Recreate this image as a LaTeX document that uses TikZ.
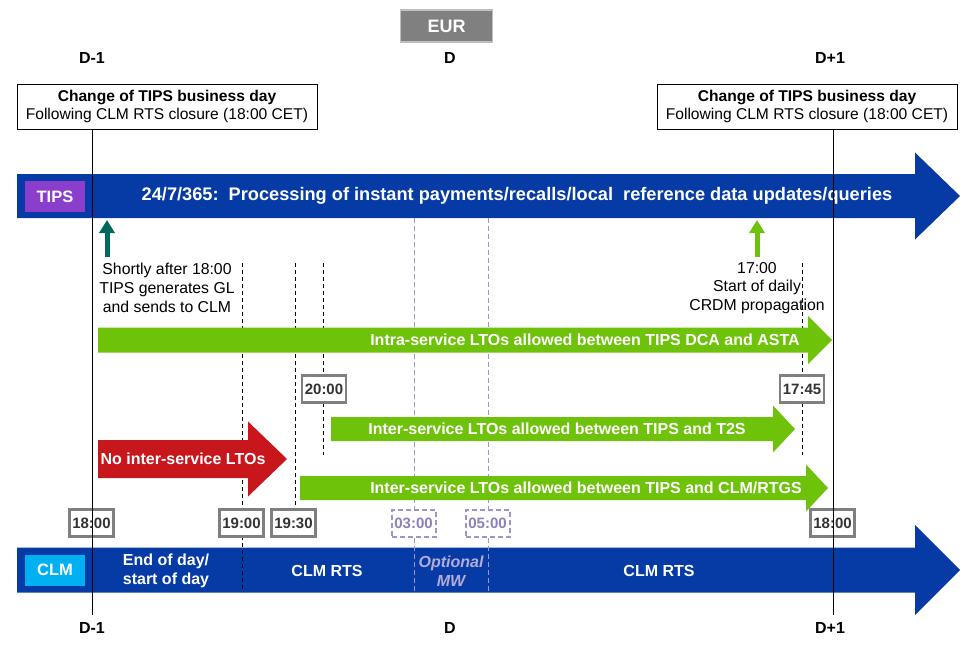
\documentclass[tikz,border=0pt]{standalone}
\usepackage{fontspec}
\setmainfont{Liberation Sans}
\usetikzlibrary{arrows.meta}
\definecolor{ecbblue}{HTML}{063BA5}
\definecolor{tipspurple}{HTML}{8B3DCB}
\definecolor{clmcyan}{HTML}{00B0F0}
\definecolor{ltogreen}{HTML}{6FC20A}
\definecolor{ltored}{HTML}{C8161D}
\definecolor{gltea}{HTML}{00695C}
\definecolor{boxgray}{HTML}{7F7F7F}
\definecolor{eurgray}{HTML}{808080}
\definecolor{mwpurple}{HTML}{A393CC}
\definecolor{mwtext}{HTML}{8E80B8}
\definecolor{mwlight}{HTML}{B3ACD8}
\newcommand\blockarrow[7]{% colour, start, head start, tip, middle, half body, half head
  \fill[#1] (#2,#5-#6) -- (#3,#5-#6) -- (#3,#5-#7) -- (#4,#5) -- (#3,#5+#7) -- (#3,#5+#6) -- (#2,#5+#6) -- cycle;}
\tikzset{
  timebox/.style={draw=boxgray, line width=2.5pt, fill=white, text=black!80,
    font=\bfseries\fontsize{15}{17}\selectfont, minimum width=44pt, minimum height=27pt, inner sep=1pt},
  mwbox/.style={timebox, draw=mwpurple, line width=2pt, dash pattern=on 5pt off 3pt, text=mwtext},
  bartext/.style={text=white, font=\bfseries\fontsize{16}{18}\selectfont},
  labelbox/.style={text=white, font=\bfseries\fontsize{16.5}{18}\selectfont, minimum width=60pt, minimum height=31pt},
  note/.style={align=center, font=\fontsize{15.8}{18.8}\selectfont},
  daymark/.style={font=\bfseries\fontsize{16}{18}\selectfont},
  changebox/.style={draw, line width=0.9pt, fill=white, align=center, minimum width=300pt, minimum height=45pt,
    inner sep=1pt, font=\fontsize{15.6}{17.5}\selectfont},
  tick/.style={dash pattern=on 4pt off 3pt, line width=0.9pt},
  mwline/.style={mwpurple, dash pattern=on 5pt off 3pt, line width=0.9pt},
}
\begin{document}
\begin{tikzpicture}[x=1pt, y=-1pt]
\useasboundingbox (0,0) rectangle (965,658);
% currency and day marks
\node[fill=eurgray, draw=black!25, line width=1.5pt, text=white, font=\bfseries\fontsize{18}{20}\selectfont,
  minimum width=92pt, minimum height=32pt] (eur) at (446.5,26) {EUR};
\node[daymark] (dm1top) at (92,58) {D-1};
\node[daymark] (dtop) at (450,58) {D};
\node[daymark] (dp1top) at (830,58) {D+1};
\node[changebox] (chgleft) at (167,106.5) {\textbf{Change of TIPS business day}\\Following CLM RTS closure (18:00 CET)};
\node[changebox] (chgright) at (807,106.5) {\textbf{Change of TIPS business day}\\Following CLM RTS closure (18:00 CET)};
% service bars
\blockarrow{ecbblue}{17}{915}{960}{196}{22}{43.5}
\blockarrow{ecbblue}{17}{915}{960}{570}{22.5}{45}
% time lines
\draw[tick] (242,263) -- (242,592);
\draw[tick] (295,263) -- (295,509);
\draw[tick] (323,263) -- (323,455);
\draw[tick] (802,263) -- (802,455);
\draw[mwline] (414,218) -- (414,592);
\draw[mwline] (488,218) -- (488,592);
% liquidity transfer bars
\blockarrow{ltogreen}{98}{808}{832}{340}{12.5}{24}
\blockarrow{ltogreen}{331}{773}{795}{429}{12}{23.5}
\blockarrow{ltogreen}{300}{806}{828}{488}{12}{23.5}
\blockarrow{ltored}{98}{248}{287}{459}{19}{37.5}
\node[bartext] (intra) at (585,340) {Intra-service LTOs allowed between TIPS DCA and ASTA};
\node[bartext] (intert2s) at (557,429) {Inter-service LTOs allowed between TIPS and T2S};
\node[bartext] (interclm) at (586,488) {Inter-service LTOs allowed between TIPS and CLM/RTGS};
\node[bartext] (nointer) at (183,459) {No inter-service LTOs};
% TIPS bar
\node[labelbox, fill=tipspurple] (tips) at (55,196.5) {TIPS};
\node[bartext, font=\bfseries\fontsize{18.2}{20}\selectfont] (tipstext) at (517,196)
  {24/7/365:\ \ Processing of instant payments/recalls/local\ \ reference data updates/queries};
% CLM bar
\node[labelbox, fill=clmcyan] (clm) at (55,570) {CLM};
\node[bartext, align=center, font=\bfseries\fontsize{16}{18.5}\selectfont] (eod) at (166,571) {End of day/\\start of day};
\node[bartext] (rtsa) at (327,571) {CLM RTS};
\node[bartext, align=center, text=mwlight, font=\bfseries\itshape\fontsize{16}{18.5}\selectfont] (mw) at (451,571) {Optional\\MW};
\node[bartext] (rtsb) at (659,571) {CLM RTS};
% events
\coordinate (glbase) at (107,257);
\coordinate (gltip) at (107,220);
\draw[gltea, line width=5pt, -{Triangle[length=13pt, width=15pt]}] (glbase) -- (gltip);
\node[note] (gl) at (167,288) {Shortly after 18:00\\TIPS generates GL\\and sends to CLM};
\coordinate (crdmbase) at (757,257);
\coordinate (crdmtip) at (757,220);
\draw[ltogreen, line width=5pt, -{Triangle[length=13pt, width=15pt]}] (crdmbase) -- (crdmtip);
\node[note] (crdm) at (757,288) {17:00\\Start of daily\\CRDM propagation};
% times
\node[timebox] (t2000) at (324,389) {20:00};
\node[timebox] (t1745) at (802,389) {17:45};
\node[timebox] (t1800a) at (91.5,523) {18:00};
\node[timebox] (t1900) at (241.5,523) {19:00};
\node[timebox] (t1930) at (293.5,523) {19:30};
\node[mwbox] (t0300) at (413.5,523) {03:00};
\node[mwbox] (t0500) at (487.5,523) {05:00};
\node[timebox] (t1800b) at (832.5,523) {18:00};
% business day limits
\draw[line width=0.9pt] (92,129) -- (92,615);
\draw[line width=0.9pt] (833,129) -- (833,615);
\node[daymark] (dm1bot) at (92,628) {D-1};
\node[daymark] (dbot) at (450,628) {D};
\node[daymark] (dp1bot) at (830,628) {D+1};
\end{tikzpicture}
\end{document}
